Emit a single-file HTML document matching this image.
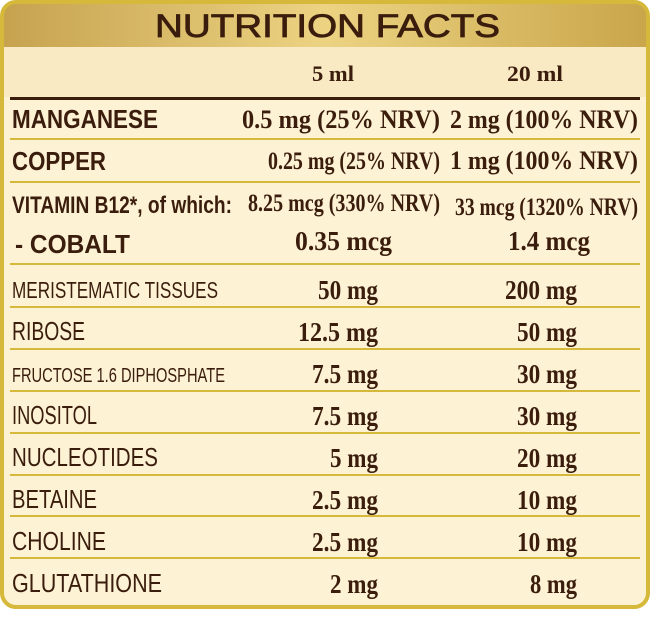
<!DOCTYPE html>
<html><head><meta charset="utf-8"><style>
html,body{margin:0;padding:0;background:#fff;width:650px;height:626px;overflow:hidden}
svg{display:block}
text{font-family:"Liberation Sans",sans-serif;fill:#3b1d0d}
.b{font-weight:bold}
.s{font-family:"Liberation Serif",serif;font-weight:bold}
</style></head><body>
<svg width="650" height="626" viewBox="0 0 650 626">
<defs>
<linearGradient id="g" x1="0" x2="1" y1="0" y2="0">
<stop offset="0" stop-color="#c6a24f"/><stop offset="0.5" stop-color="#ecd382"/><stop offset="1" stop-color="#c9a54a"/>
</linearGradient>
<clipPath id="c"><rect x="2" y="2" width="646" height="605" rx="14"/></clipPath>
</defs>
<g clip-path="url(#c)">
<rect x="0" y="0" width="650" height="610" fill="#fdf2d4"/>
<rect x="0" y="47" width="650" height="50" fill="#faeac4"/>
<rect x="0" y="0" width="650" height="47" fill="url(#g)"/>
</g>
<rect x="2" y="2" width="646" height="605" rx="14" fill="none" stroke="#d6b83a" stroke-width="4"/>
<rect x="10" y="97" width="630" height="3" fill="#3b1d0d"/>
<g fill="#d6b83a">
<rect x="10" y="138" width="630" height="2"/>
<rect x="10" y="181" width="630" height="2"/>
<rect x="10" y="263" width="630" height="2"/>
<rect x="10" y="306" width="630" height="2"/>
<rect x="10" y="348" width="630" height="2"/>
<rect x="10" y="390" width="630" height="2"/>
<rect x="10" y="432" width="630" height="2"/>
<rect x="10" y="474" width="630" height="2"/>
<rect x="10" y="515" width="630" height="2"/>
<rect x="10" y="557" width="630" height="2"/>
</g>
<text x="155" y="37" font-size="32" textLength="345" lengthAdjust="spacingAndGlyphs" stroke="#3b1d0d" stroke-width="0.8">NUTRITION FACTS</text>
<text class="s" x="312" y="81" font-size="22" textLength="42" lengthAdjust="spacingAndGlyphs">5 ml</text>
<text class="s" x="507" y="81" font-size="22" textLength="56" lengthAdjust="spacingAndGlyphs">20 ml</text>

<text class="b" x="12" y="128" font-size="26" textLength="146" lengthAdjust="spacingAndGlyphs">MANGANESE</text>
<text class="s" x="242" y="128" font-size="26" textLength="198" lengthAdjust="spacingAndGlyphs">0.5 mg (25% NRV)</text>
<text class="s" x="450" y="128" font-size="26" textLength="188" lengthAdjust="spacingAndGlyphs">2 mg (100% NRV)</text>

<text class="b" x="12" y="170" font-size="26" textLength="94" lengthAdjust="spacingAndGlyphs">COPPER</text>
<text class="s" x="268" y="169" font-size="25" textLength="172" lengthAdjust="spacingAndGlyphs">0.25 mg (25% NRV)</text>
<text class="s" x="450" y="169" font-size="26" textLength="188" lengthAdjust="spacingAndGlyphs">1 mg (100% NRV)</text>

<text class="b" x="12" y="213" font-size="24" textLength="220" lengthAdjust="spacingAndGlyphs">VITAMIN B12*, of which:</text>
<text class="s" x="248" y="211" font-size="25" textLength="192" lengthAdjust="spacingAndGlyphs">8.25 mcg (330% NRV)</text>
<text class="s" x="455" y="215" font-size="25" textLength="183" lengthAdjust="spacingAndGlyphs">33 mcg (1320% NRV)</text>

<text class="b" x="15" y="253" font-size="26" textLength="115" lengthAdjust="spacingAndGlyphs">- COBALT</text>
<text class="s" x="295" y="250" font-size="27" textLength="97" lengthAdjust="spacingAndGlyphs">0.35 mcg</text>
<text class="s" x="508" y="250" font-size="27" textLength="82" lengthAdjust="spacingAndGlyphs">1.4 mcg</text>

<g font-size="27">
<text x="12" y="298" textLength="206" lengthAdjust="spacingAndGlyphs" font-size="23">MERISTEMATIC TISSUES</text>
<text class="s" x="378" y="299" text-anchor="end" textLength="60" lengthAdjust="spacingAndGlyphs">50 mg</text>
<text class="s" x="577" y="299" text-anchor="end" textLength="72" lengthAdjust="spacingAndGlyphs">200 mg</text>

<text x="12" y="340" textLength="73" lengthAdjust="spacingAndGlyphs" font-size="26">RIBOSE</text>
<text class="s" x="378" y="341" text-anchor="end" textLength="80" lengthAdjust="spacingAndGlyphs">12.5 mg</text>
<text class="s" x="577" y="341" text-anchor="end" textLength="60" lengthAdjust="spacingAndGlyphs">50 mg</text>

<text x="12" y="382" textLength="213" lengthAdjust="spacingAndGlyphs" font-size="20">FRUCTOSE 1.6 DIPHOSPHATE</text>
<text class="s" x="378" y="383" text-anchor="end" textLength="66" lengthAdjust="spacingAndGlyphs">7.5 mg</text>
<text class="s" x="577" y="383" text-anchor="end" textLength="60" lengthAdjust="spacingAndGlyphs">30 mg</text>

<text x="12" y="424" textLength="85" lengthAdjust="spacingAndGlyphs" font-size="26">INOSITOL</text>
<text class="s" x="378" y="425" text-anchor="end" textLength="66" lengthAdjust="spacingAndGlyphs">7.5 mg</text>
<text class="s" x="577" y="425" text-anchor="end" textLength="60" lengthAdjust="spacingAndGlyphs">30 mg</text>

<text x="12" y="466" textLength="146" lengthAdjust="spacingAndGlyphs" font-size="26">NUCLEOTIDES</text>
<text class="s" x="378" y="467" text-anchor="end" textLength="48" lengthAdjust="spacingAndGlyphs">5 mg</text>
<text class="s" x="577" y="467" text-anchor="end" textLength="60" lengthAdjust="spacingAndGlyphs">20 mg</text>

<text x="12" y="508" textLength="85" lengthAdjust="spacingAndGlyphs" font-size="26">BETAINE</text>
<text class="s" x="378" y="509" text-anchor="end" textLength="66" lengthAdjust="spacingAndGlyphs">2.5 mg</text>
<text class="s" x="577" y="509" text-anchor="end" textLength="60" lengthAdjust="spacingAndGlyphs">10 mg</text>

<text x="12" y="550" textLength="94" lengthAdjust="spacingAndGlyphs" font-size="26">CHOLINE</text>
<text class="s" x="378" y="551" text-anchor="end" textLength="66" lengthAdjust="spacingAndGlyphs">2.5 mg</text>
<text class="s" x="577" y="551" text-anchor="end" textLength="60" lengthAdjust="spacingAndGlyphs">10 mg</text>

<text x="12" y="592" textLength="150" lengthAdjust="spacingAndGlyphs" font-size="26">GLUTATHIONE</text>
<text class="s" x="378" y="593" text-anchor="end" textLength="48" lengthAdjust="spacingAndGlyphs">2 mg</text>
<text class="s" x="577" y="593" text-anchor="end" textLength="47" lengthAdjust="spacingAndGlyphs">8 mg</text>
</g>
</svg>
</body></html>
